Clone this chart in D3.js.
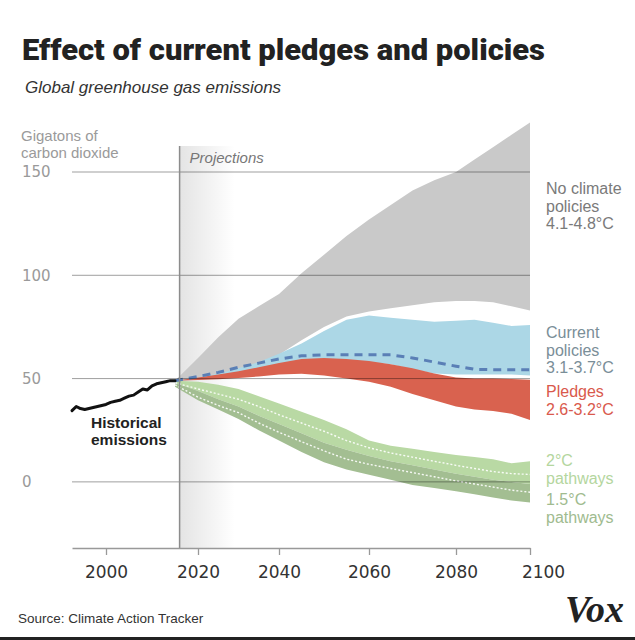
<!DOCTYPE html>
<html><head><meta charset="utf-8">
<script src="https://cdn.jsdelivr.net/npm/d3@7"></script>
<style>
html,body{margin:0;padding:0;background:#fff;}
svg{display:block;}
</style></head>
<body>
<svg id="chart" width="635" height="640"></svg>
<script>
// ---------- DATA ----------
const histYears = [1992,1993,1994,1995,1996,1997,1998,1999,2000,2001,2002,2003,2004,2005,2006,2007,2008,2009,2010,2011,2012,2013,2014,2015];
const histValues = [34.5,36.5,35.5,35,35.5,36,36.5,37,37.5,38.5,39,39.5,40.5,41.5,42,43.5,45,44.5,46.5,47.5,48,48.5,49,49];

const projYears = [2015,2020,2025,2030,2035,2040,2045,2050,2055,2060,2065,2070,2075,2080,2085,2090,2095,2100];
const noPolicyHigh = [49,60,70,79,85,91,101,110,119,127,134,141,146,150,156,162,168,174];
const noPolicyLow  = [49,50,52,54.5,57.5,61.5,68.5,75,80,82.5,84,85.5,87,87.5,87.5,87,85,83];
const currentHigh  = [49,50.5,52.5,55,58,62,67,73,78.5,80.5,79.5,78.5,77.5,78,78.5,77,75.5,76];
const currentLow   = [49,49.5,50,51,52.5,54.5,56.5,57.5,58,58,57,54.5,52.5,52,52,52,52,51.5];
const currentMid   = [49,51,53,55.5,57.5,59.5,61,61.5,61.5,61.5,61.5,60,58,56,54.5,54.3,54.3,54.3];
const pledgeHigh   = [49,50.5,52,53.5,55.5,57.5,59.5,60,59.5,58.5,57,55,52.5,50.5,50,50,49.8,49.5];
const pledgeLow    = [49,49.3,49.7,50.3,51,52,52.4,51.5,50,48.5,46,42.5,39.5,36.5,35,34.3,33,30];
const twoDegHigh   = [49,48.5,47,45,41.5,38,34,30,25.5,20,17.5,16,14.5,13,12,11,9,10];
const twoDegMid    = [48,45,42.5,40,36.5,32.5,28.5,24.5,20,16.5,14,12,10,8,6.5,5,4,3.6];
const onePointFiveHigh = [48,44,40,36.5,32,28,23.5,19,15.5,12.5,10,8,6,4,2.5,1,0,-1];
const onePointFiveMid  = [47,41,37,33.5,28.5,24,19.5,15,11,8.5,6.5,4.5,2.5,0.5,-1,-2.5,-4,-5];
const onePointFiveLow  = [46,39.5,35,30.5,25,20,14.5,9.5,6,3.5,1,-1.5,-3,-4.5,-6,-7.5,-9,-10];

const projectionStart = 2016;
const xTickYears = [2000,2020,2040,2060,2080,2100];
const yTickValues = [0,50,100,150];

// ---------- SCALES ----------
const svg = d3.select("#chart");
const x = d3.scaleLinear()
  .domain([1992,2000,2020,2040,2060,2080,2100])
  .range([72,106,198,279,369,456,530]);
const y = d3.scaleLinear().domain([-32,150]).range([548,172]);

const sans = "'Liberation Sans', Arial, sans-serif";

// ---------- TITLES ----------
svg.append("text").attr("x",22).attr("y",60)
  .attr("font-family","Roboto, 'Liberation Sans', sans-serif").attr("font-weight",900)
  .attr("font-size",29).attr("fill","#222")
  .attr("textLength",523).attr("lengthAdjust","spacingAndGlyphs")
  .text("Effect of current pledges and policies");
svg.append("text").attr("x",25).attr("y",93)
  .attr("font-family",sans).attr("font-style","italic")
  .attr("font-size",17).attr("fill","#333")
  .text("Global greenhouse gas emissions");

// ---------- PROJECTION SHADING ----------
const defs = svg.append("defs");
const grad = defs.append("linearGradient").attr("id","shade").attr("x1","0").attr("x2","1").attr("y1","0").attr("y2","0");
grad.append("stop").attr("offset","0%").attr("stop-color","#e4e4e4");
grad.append("stop").attr("offset","100%").attr("stop-color","#ffffff");
svg.append("rect").attr("x",x(projectionStart)).attr("y",146)
  .attr("width",55).attr("height",y(-32)-146).attr("fill","url(#shade)");

// ---------- BANDS ----------
function band(hi, lo) {
  return d3.area().x((d,i)=>x(projYears[i])).y0((d,i)=>y(lo[i])).y1((d,i)=>y(hi[i]))(projYears);
}
function line(vals) {
  return d3.line().x((d,i)=>x(projYears[i])).y((d,i)=>y(vals[i]))(projYears);
}
svg.append("path").attr("d",band(noPolicyHigh,noPolicyLow)).attr("fill","#c9c9c9");
svg.append("path").attr("d",band(currentHigh,currentLow)).attr("fill","#acd7e6");
svg.append("path").attr("d",band(pledgeHigh,pledgeLow)).attr("fill","#d9624f");
svg.append("path").attr("d",band(twoDegHigh,onePointFiveHigh.map((v,i)=>Math.min(v,twoDegMid[i])))).attr("fill","#b9d9a4");
svg.append("path").attr("d",band(onePointFiveHigh,onePointFiveLow)).attr("fill","#a3be92");
svg.append("path").attr("d",line(twoDegMid)).attr("fill","none").attr("stroke","#fff")
  .attr("stroke-width",1.4).attr("stroke-dasharray","2,2").attr("opacity",0.9);
svg.append("path").attr("d",line(onePointFiveMid)).attr("fill","none").attr("stroke","#fff")
  .attr("stroke-width",1.4).attr("stroke-dasharray","2,2").attr("opacity",0.9);
svg.append("path").attr("d",line(currentMid)).attr("fill","none").attr("stroke","#5a7fb6")
  .attr("stroke-width",3).attr("stroke-dasharray","8,6");

// ---------- GRID ----------
svg.append("g").selectAll("line").data(yTickValues).join("line")
  .attr("x1",x(1992)).attr("x2",x(2100))
  .attr("y1",d=>y(d)).attr("y2",d=>y(d))
  .attr("stroke","#000").attr("stroke-opacity",0.38).attr("stroke-width",1);
svg.append("g").selectAll("text").data(yTickValues).join("text")
  .attr("x",22).attr("y",d=>y(d)).attr("dy","0.36em")
  .attr("font-family","'DejaVu Sans', sans-serif").attr("font-size",15).attr("fill","#9a9a9a")
  .text(d=>d);
svg.append("text").attr("font-family",sans).attr("font-size",15).attr("fill","#9a9a9a")
  .selectAll("tspan").data(["Gigatons of","carbon dioxide"]).join("tspan")
  .attr("x",21).attr("y",(d,i)=>141+i*17).text(d=>d);

// projection line
svg.append("line").attr("x1",x(projectionStart)).attr("x2",x(projectionStart))
  .attr("y1",146).attr("y2",y(-32)).attr("stroke","#8c8c8c").attr("stroke-width",1.5);
svg.append("text").attr("x",x(projectionStart)+10).attr("y",163)
  .attr("font-family",sans).attr("font-style","italic").attr("font-size",15).attr("fill","#777")
  .text("Projections");

// ---------- HISTORICAL ----------
svg.append("path")
  .attr("d",d3.line().x((d,i)=>x(histYears[i])).y((d,i)=>y(histValues[i]))(histYears))
  .attr("fill","none").attr("stroke","#111").attr("stroke-width",3)
  .attr("stroke-linejoin","round").attr("stroke-linecap","round");
svg.append("text").attr("font-family",sans).attr("font-weight","bold").attr("font-size",15.5).attr("fill","#222")
  .selectAll("tspan").data(["Historical","emissions"]).join("tspan")
  .attr("x",91).attr("y",(d,i)=>428+i*17).text(d=>d);

// ---------- X AXIS ----------
const xAxis = d3.axisBottom(x).tickValues(xTickYears).tickFormat(d3.format("d")).tickSize(7).tickSizeOuter(0);
const gx = svg.append("g").attr("transform",`translate(0,${y(-32)})`).call(xAxis);
gx.select(".domain").attr("stroke","#999").attr("stroke-width",1.3);
gx.selectAll(".tick line").attr("stroke","#999").attr("stroke-width",1.3);
gx.selectAll(".tick text").attr("font-family","'DejaVu Sans', sans-serif").attr("font-size",17)
  .attr("fill","#333").attr("dy","1.2em")
  .attr("dx",d=>d===2100?13:0);

// ---------- RIGHT LABELS ----------
const labelGroups = [
  {lines:["No climate","policies","4.1-4.8°C"], y:194, color:"#7a7a7a"},
  {lines:["Current","policies","3.1-3.7°C"], y:338, color:"#7a8e98"},
  {lines:["Pledges","2.6-3.2°C"], y:397, color:"#d9594c"},
  {lines:["2°C","pathways"], y:466, color:"#b4d69e"},
  {lines:["1.5°C","pathways"], y:505, color:"#a0bb8f"}
];
labelGroups.forEach(g=>{
  svg.append("text").attr("font-family",sans).attr("font-size",16).attr("fill",g.color)
    .selectAll("tspan").data(g.lines).join("tspan")
    .attr("x",546).attr("y",(d,i)=>g.y+i*17.5).text(d=>d);
});

// ---------- FOOTER ----------
svg.append("text").attr("x",18).attr("y",623)
  .attr("font-family",sans).attr("font-size",13.5).attr("fill","#333")
  .text("Source: Climate Action Tracker");
svg.append("text").attr("x",565).attr("y",622)
  .attr("font-family","'Liberation Serif', 'DejaVu Serif', serif").attr("font-weight","bold").attr("font-style","italic")
  .attr("font-size",38).attr("fill","#222")
  .attr("textLength",59).attr("lengthAdjust","spacingAndGlyphs")
  .text("Vox");
svg.append("rect").attr("x",0).attr("y",637).attr("width",635).attr("height",3).attr("fill","#222");
</script>
</body></html>
